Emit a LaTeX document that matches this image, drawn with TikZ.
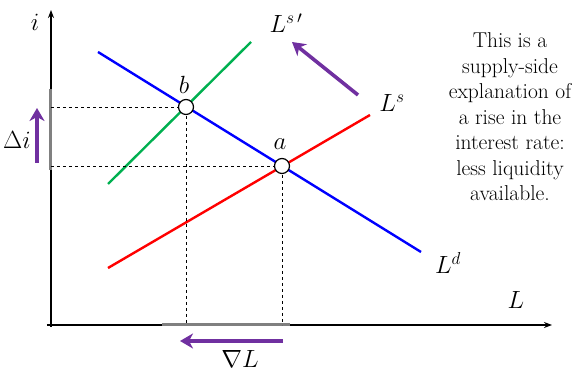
\documentclass[tikz,border=0pt]{standalone}
\usepackage{amsmath}
\usetikzlibrary{arrows.meta, positioning, calc}

\definecolor{shiftpurple}{RGB}{112,48,160}
\definecolor{supplygreen}{RGB}{0,176,80}

\begin{document}
\begin{tikzpicture}[x=1pt, y=1pt,
        axis/.style={-{Stealth[length=8pt, width=6pt]}, line width=1.4pt},
        curve/.style={line width=2.4pt},
        guide/.style={dashed, line width=0.8pt},
        eqpt/.style={draw, circle, fill=white, line width=1.2pt, minimum size=15pt, inner sep=0pt},
        rangebar/.style={line width=3pt, color=gray},
        shiftarrow/.style={-{Stealth[length=13pt, width=15pt, inset=4pt]}, line width=3.6pt, color=shiftpurple},
        lbl/.style={font=\fontsize{23}{26}\selectfont},
        note/.style={align=center, inner sep=0pt, font=\fontsize{21.5}{25.5}\selectfont}
    ]
        \useasboundingbox (-51,-46) rectangle (524,325);

        % --- Axes ---
        \coordinate (O) at (0,0);
        \coordinate (itop) at (0,315);
        \coordinate (Lend) at (501,0);
        \draw[axis] (-4,0) -- (Lend);
        \draw[axis] (0,-2) -- (itop);
        \node[lbl] (ilab) at (-16,303) {$i$};
        \node[lbl] (Llab) at (465,25) {$L$};

        % --- Shift ranges on the axes ---
        \coordinate (di1) at (0,155);
        \coordinate (di2) at (0,236);
        \coordinate (dL1) at (111,0);
        \coordinate (dL2) at (239,0);
        \draw[rangebar] (di1) -- (di2);
        \draw[rangebar] (dL1) -- (dL2);

        % --- Demand and supply curves ---
        \coordinate (Ld1) at (47,273);
        \coordinate (Ld2) at (370,73);
        \coordinate (Ls1) at (57,57);
        \coordinate (Ls2) at (319,210);
        \coordinate (Lsp1) at (57,141);
        \coordinate (Lsp2) at (200,283);
        \draw[curve, blue] (Ld1) -- (Ld2);
        \draw[curve, red] (Ls1) -- (Ls2);
        \draw[curve, supplygreen] (Lsp1) -- (Lsp2);
        \node[lbl] (Ldlab) at (397,62) {$L^d$};
        \node[lbl] (Lslab) at (341,222) {$L^s$};
        \node[lbl] (Lsplab) at (235,302) {$L^{s\,\prime}$};

        % --- Equilibria ---
        \coordinate (aproj) at (231,0);
        \coordinate (bproj) at (135,0);
        \coordinate (alev) at (0,159);
        \coordinate (blev) at (0,218);
        \draw[guide] (alev) -- (231,159) -- (aproj);
        \draw[guide] (blev) -- (135,218) -- (bproj);
        \node[eqpt] (a) at (231,159) {};
        \node[eqpt] (b) at (135,218) {};
        \node[lbl] (alab) at (229,181) {$a$};
        \node[lbl] (blab) at (133,240) {$b$};

        % --- Shift arrows ---
        \coordinate (up1) at (-14,162);
        \coordinate (up2) at (-14,217);
        \coordinate (lf1) at (232,-16);
        \coordinate (lf2) at (129,-16);
        \coordinate (sh1) at (307,230);
        \coordinate (sh2) at (241,283);
        \draw[shiftarrow] (up1) -- (up2);
        \draw[shiftarrow] (lf1) -- (lf2);
        \draw[shiftarrow] (sh1) -- (sh2);
        \node[lbl] (dilab) at (-34,185) {$\Delta i$};
        \node[lbl] (dLlab) at (189,-34) {$\nabla L$};

        % --- Explanation ---
        \node[note] (expl) at (459,208) {This is a\\supply-side\\explanation of\\a rise in the\\interest rate:\\less liquidity\\available.};
    \end{tikzpicture}
\end{document}
